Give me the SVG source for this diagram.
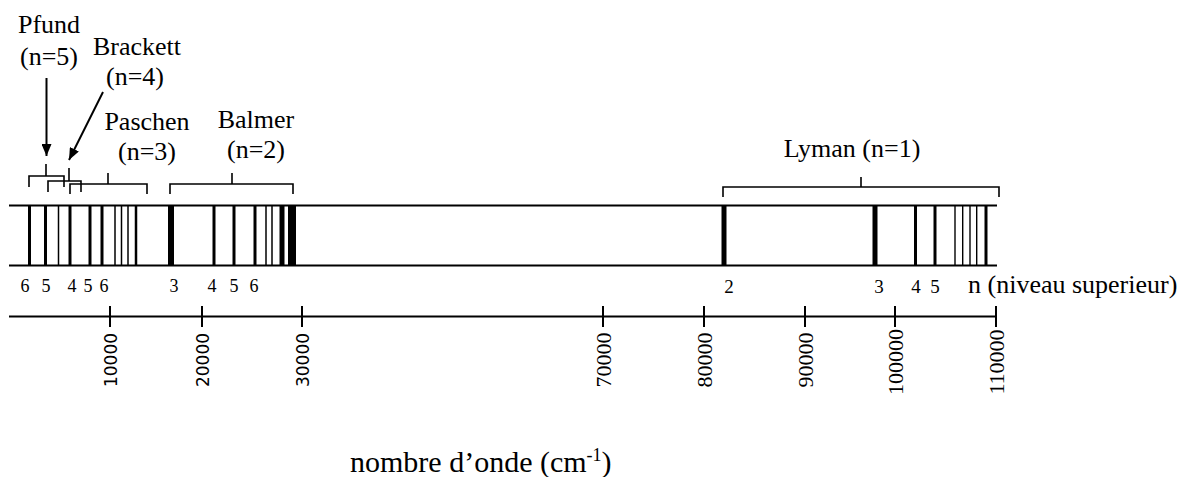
<svg xmlns="http://www.w3.org/2000/svg" width="1187" height="477" viewBox="0 0 1187 477">
<defs>
<style>
.ln{stroke:#000;fill:none}
.br{stroke:#000;stroke-width:1.6;fill:none}
.big{font-size:26px;text-anchor:middle}
.dg{font-size:18px;text-anchor:middle}
.dgl{font-size:19px;text-anchor:middle}
.ts{font-size:17px;text-anchor:middle}
.tr{font-size:22px;text-anchor:middle}
</style>
<marker id="ah" viewBox="0 0 12 10" refX="12" refY="5" markerWidth="12" markerHeight="10" markerUnits="userSpaceOnUse" orient="auto">
<path d="M0,0 L12,5 L0,10 Z" fill="#000"/>
</marker>
</defs>
<rect width="1187" height="477" fill="#fff"/>

<g id="band">
<line class="ln" stroke-width="2" x1="9" y1="205.5" x2="997" y2="205.5"/>
<line class="ln" stroke-width="2" x1="9" y1="265.5" x2="997" y2="265.5"/>
<g id="lines-ir" class="ln">
<line x1="29.5" y1="205" x2="29.5" y2="266" stroke-width="3"/>
<line x1="45.5" y1="205" x2="45.5" y2="266" stroke-width="3"/>
<line x1="58.5" y1="205" x2="58.5" y2="266" stroke-width="1.5"/>
<line x1="70" y1="205" x2="70" y2="266" stroke-width="3"/>
<line x1="90" y1="205" x2="90" y2="266" stroke-width="3"/>
<line x1="102" y1="205" x2="102" y2="266" stroke-width="3"/>
<line x1="115" y1="205" x2="115" y2="266" stroke-width="1.5"/>
<line x1="121.5" y1="205" x2="121.5" y2="266" stroke-width="1.5"/>
<line x1="128" y1="205" x2="128" y2="266" stroke-width="1.5"/>
<line x1="136" y1="205" x2="136" y2="266" stroke-width="2.5"/>
</g>
<g id="lines-balmer" class="ln">
<line x1="171" y1="205" x2="171" y2="266" stroke-width="6"/>
<line x1="214" y1="205" x2="214" y2="266" stroke-width="3"/>
<line x1="234" y1="205" x2="234" y2="266" stroke-width="3"/>
<line x1="255" y1="205" x2="255" y2="266" stroke-width="3"/>
<line x1="266" y1="205" x2="266" y2="266" stroke-width="1.5"/>
<line x1="272" y1="205" x2="272" y2="266" stroke-width="1.5"/>
<line x1="282" y1="205" x2="282" y2="266" stroke-width="5"/>
<line x1="292" y1="205" x2="292" y2="266" stroke-width="8"/>
</g>
<g id="lines-lyman" class="ln">
<line x1="724" y1="205" x2="724" y2="266" stroke-width="5"/>
<line x1="875" y1="205" x2="875" y2="266" stroke-width="5"/>
<line x1="915.5" y1="205" x2="915.5" y2="266" stroke-width="3"/>
<line x1="935" y1="205" x2="935" y2="266" stroke-width="3"/>
<line x1="955" y1="205" x2="955" y2="266" stroke-width="1.4"/>
<line x1="962.7" y1="205" x2="962.7" y2="266" stroke-width="1.4"/>
<line x1="970" y1="205" x2="970" y2="266" stroke-width="1.4"/>
<line x1="976.7" y1="205" x2="976.7" y2="266" stroke-width="1.4"/>
<line x1="986" y1="205" x2="986" y2="266" stroke-width="3"/>
</g>
</g>

<g id="level-labels" font-family="Liberation Serif, Times New Roman, serif" fill="#000">
<text class="dg" x="25" y="292">6</text>
<text class="dg" x="46" y="292">5</text>
<text class="dg" x="72" y="292">4</text>
<text class="dg" x="88" y="292">5</text>
<text class="dg" x="104" y="292">6</text>
<text class="dg" x="174" y="292">3</text>
<text class="dg" x="212" y="292">4</text>
<text class="dg" x="234" y="292">5</text>
<text class="dg" x="254" y="292">6</text>
<text class="dgl" x="729" y="293">2</text>
<text class="dgl" x="879" y="293">3</text>
<text class="dgl" x="916" y="293">4</text>
<text class="dgl" x="935" y="293">5</text>
<text x="968" y="293" font-size="26">n (niveau superieur)</text>
</g>

<g font-family="Liberation Serif, Times New Roman, serif" fill="#000">
<g id="series-pfund">
<path class="br" d="M29,187 V176 H64 V187 M46,176 V164"/>
<text class="big" x="49" y="33">Pfund</text>
<text class="big" x="49" y="65">(n=5)</text>
</g>
<g id="series-brackett">
<path class="br" d="M48,192 V181 H81 V192 M69,181 V168"/>
<text class="big" x="137" y="55">Brackett</text>
<text class="big" x="135" y="85">(n=4)</text>
</g>
<g id="series-paschen">
<path class="br" d="M70,194 V184 H147 V194 M108,184 V173"/>
<text class="big" x="147" y="130">Paschen</text>
<text class="big" x="147" y="160">(n=3)</text>
</g>
<g id="series-balmer">
<path class="br" d="M170,194 V184 H293 V194 M232,184 V173"/>
<text class="big" x="256" y="128">Balmer</text>
<text class="big" x="256" y="158">(n=2)</text>
</g>
<g id="series-lyman">
<path class="br" d="M723,197 V187 H999 V197 M861,187 V177"/>
<text class="big" x="852" y="157">Lyman (n=1)</text>
</g>
</g>

<g id="connectors">
<line class="ln" stroke-width="2" x1="46.5" y1="78" x2="46.5" y2="156" marker-end="url(#ah)"/>
<line class="ln" stroke-width="2" x1="103" y1="92" x2="69" y2="160" marker-end="url(#ah)"/>
</g>

<g id="axis" fill="#000">
<line class="ln" stroke-width="2" x1="9" y1="316.5" x2="997" y2="316.5"/>
<path class="ln" stroke-width="2" d="M110,306 V327 M202,306 V327 M302,306 V327 M603,306 V327 M704,306 V327 M805,306 V327 M895,306 V327 M996,306 V327"/>
<g font-family="DejaVu Sans, sans-serif">
<text class="ts" transform="translate(116.5,360) rotate(-90)">10000</text>
<text class="ts" transform="translate(208.5,360) rotate(-90)">20000</text>
<text class="ts" transform="translate(308.5,360) rotate(-90)">30000</text>
</g>
<g font-family="Liberation Serif, Times New Roman, serif">
<text class="tr" transform="translate(610.5,360) rotate(-90)">70000</text>
<text class="tr" transform="translate(711.5,360) rotate(-90)">80000</text>
<text class="tr" transform="translate(812.5,360) rotate(-90)">90000</text>
<text class="tr" transform="translate(902.5,362) rotate(-90)">100000</text>
<text class="tr" transform="translate(1003.5,362) rotate(-90)">110000</text>
<text x="350" y="472" font-size="30">nombre d’onde (cm<tspan font-size="18" dy="-11">-1</tspan><tspan dy="11">)</tspan></text>
</g>
</g>
</svg>
